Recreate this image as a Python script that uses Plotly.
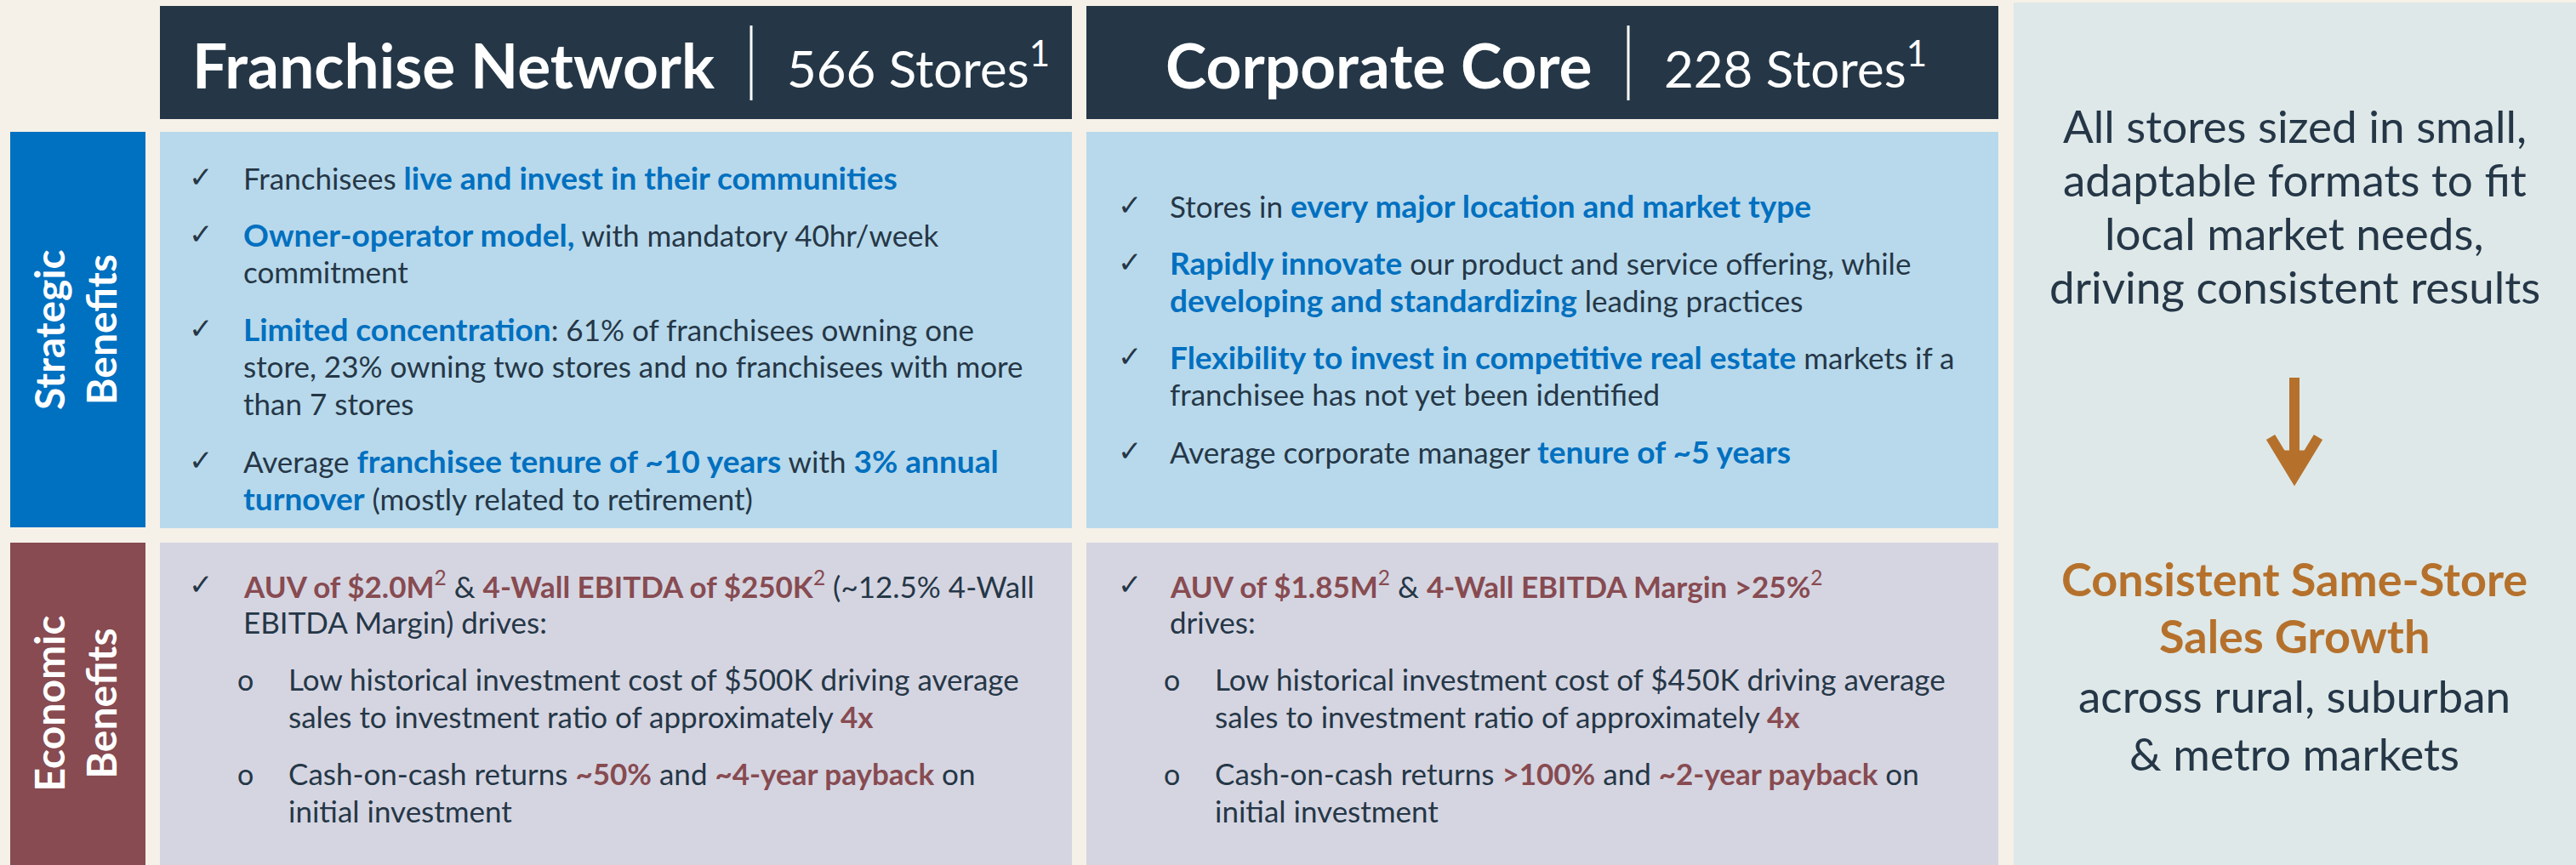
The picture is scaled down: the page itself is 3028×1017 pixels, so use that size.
import plotly.graph_objects as go

W, H = 3028, 1017

# colours
CREAM = "#F5F1E8"
NAVY = "#253747"
BLUE = "#0070C0"
LIGHT_BLUE = "#B8D9EB"
MAROON = "#874B51"
LAVENDER = "#D5D5E1"
PANEL = "#DEE8E8"
ORANGE = "#B5712C"
TEXT = "#253747"
FONT = "Lato"

# ---- content ----
segments = ["Franchise Network", "Corporate Core"]
store_counts = [566, 228]
row_labels = [["Strategic", "Benefits"], ["Economic", "Benefits"]]

# each bullet = list of lines, each line = list of (text, style); style "" plain, "hl" highlight, "sup" superscript
franchise_strategic = [
    [[("Franchisees ", ""), ("live and invest in their communities", "hl")]],
    [[("Owner-operator model,", "hl"), (" with mandatory 40hr/week", "")],
     [("commitment", "")]],
    [[("Limited concentration", "hl"), (": 61% of franchisees owning one", "")],
     [("store, 23% owning two stores and no franchisees with more", "")],
     [("than 7 stores", "")]],
    [[("Average ", ""), ("franchisee tenure of ~10 years", "hl"), (" with ", ""), ("3% annual", "hl")],
     [("turnover", "hl"), (" (mostly related to retirement)", "")]],
]

corporate_strategic = [
    [[("Stores in ", ""), ("every major location and market type", "hl")]],
    [[("Rapidly innovate", "hl"), (" our product and service offering, while", "")],
     [("developing and standardizing", "hl"), (" leading practices", "")]],
    [[("Flexibility to invest in competitive real estate", "hl"), (" markets if a", "")],
     [("franchisee has not yet been identified", "")]],
    [[("Average corporate manager ", ""), ("tenure of ~5 years", "hl")]],
]

# economic bullets: (level, lines) -- level "main" gets a check mark, "sub" a circle
franchise_economic = [
    ("main", [[("AUV of $2.0M", "hl"), ("2", "sup"), (" & ", ""), ("4-Wall EBITDA of $250K", "hl"),
               ("2", "sup"), (" (~12.5% 4-Wall", "")],
              [("EBITDA Margin) drives:", "")]]),
    ("sub", [[("Low historical investment cost of $500K driving average", "")],
             [("sales to investment ratio of approximately ", ""), ("4x", "hl")]]),
    ("sub", [[("Cash-on-cash returns ", ""), ("~50%", "hl"), (" and ", ""), ("~4-year payback", "hl"), (" on", "")],
             [("initial investment", "")]]),
]

corporate_economic = [
    ("main", [[("AUV of $1.85M", "hl"), ("2", "sup"), (" & ", ""), ("4-Wall EBITDA Margin >25%", "hl"), ("2", "sup")],
              [("drives:", "")]]),
    ("sub", [[("Low historical investment cost of $450K driving average", "")],
             [("sales to investment ratio of approximately ", ""), ("4x", "hl")]]),
    ("sub", [[("Cash-on-cash returns ", ""), (">100%", "hl"), (" and ", ""), ("~2-year payback", "hl"), (" on", "")],
             [("initial investment", "")]]),
]

summary_top = ["All stores sized in small,", "adaptable formats to fit",
               "local market needs,", "driving consistent results"]
summary_result = ["Consistent Same-Store", "Sales Growth"]
summary_bottom = ["across rural, suburban", "& metro markets"]


def rich(line, hl_color, hl_size):
    out = []
    for txt, kind in line:
        txt = txt.replace("&", "&amp;").replace(">", "&gt;")
        if kind == "hl":
            out.append(f"<b><span style='color:{hl_color};font-size:{hl_size}px'>{txt}</span></b>")
        elif kind == "sup":
            out.append(f"<span style='color:{hl_color}'><sup>{txt}</sup></span>")
        else:
            out.append(txt)
    return "".join(out)


fig = go.Figure()
shapes = []
ann = []


def rect(x0, y0, x1, y1, color):
    shapes.append(dict(type="rect", x0=x0, y0=y0, x1=x1, y1=y1, xref="x", yref="y",
                       fillcolor=color, line=dict(width=0), layer="below"))


def text(x, y, s, size, color=TEXT, xanchor="left", angle=0):
    ann.append(dict(x=x, y=y, xref="x", yref="y", text=s, showarrow=False,
                    xanchor=xanchor, yanchor="middle", textangle=angle,
                    font=dict(family=FONT, size=size, color=color)))


# layout grid
col_x = [(188, 1260), (1277, 2349)]
label_x = (12, 171)
header_y = (7, 140)
strat_y = (155, 621)
econ_y = (638, H)
panel = (2367, 3, W, H)
divider_x = [883, 1914]

# backgrounds
for (x0, x1) in col_x:
    rect(x0, header_y[0], x1, header_y[1], NAVY)
    rect(x0, strat_y[0], x1, strat_y[1], LIGHT_BLUE)
    rect(x0, econ_y[0], x1, econ_y[1], LAVENDER)
rect(label_x[0], strat_y[0], label_x[1], strat_y[1] - 1, BLUE)
rect(label_x[0], econ_y[0], label_x[1], econ_y[1], MAROON)
rect(*panel, PANEL)

# headers
for name, count, dx in zip(segments, store_counts, divider_x):
    shapes.append(dict(type="line", x0=dx, x1=dx, y0=30, y1=118, xref="x", yref="y",
                       line=dict(color="white", width=3)))
    text(dx - 40, 76, f"<b>{name}</b>", 73, "white", xanchor="right")
    text(dx + 40, 76, f"{count} Stores<sup>1</sup>", 60, "white")

# row labels (rotated)
for (l1, l2), (y0, y1) in zip(row_labels, [strat_y, econ_y]):
    yc = (y0 + y1) / 2
    text(57, yc, f"<b>{l1}</b>", 48, "white", xanchor="center", angle=-90)
    text(118, yc, f"<b>{l2}</b>", 48, "white", xanchor="center", angle=-90)

LINE = 44
GAP = 23
BODY = 35
MARK = 34


def strategic(items, x_mark, x_text, y):
    for lines in items:
        text(x_mark, y - 2, "✓", MARK, TEXT, xanchor="center")
        for ln in lines:
            text(x_text, y, rich(ln, BLUE, 37), BODY)
            y += LINE
        y += GAP


def economic(items, x_mark, x_sub_mark, x_text, x_sub_text, y):
    for level, lines in items:
        if level == "main":
            text(x_mark, y - 2, "✓", MARK, TEXT, xanchor="center")
            xt = x_text
        else:
            text(x_sub_mark, y, "o", MARK, TEXT, xanchor="center")
            xt = x_sub_text
        for ln in lines:
            text(xt, y, rich(ln, MAROON, 35), BODY)
            y += LINE
        y += GAP


strategic(franchise_strategic, 236, 284, 208)
strategic(corporate_strategic, 1328, 1373, 241)
economic(franchise_economic, 236, 288, 284, 337, 687)
economic(corporate_economic, 1328, 1377, 1373, 1426, 687)

# right summary panel
cx = 2697
for i, s in enumerate(summary_top):
    text(cx, 147 + i * 63, s, 53, TEXT, xanchor="center")
for i, s in enumerate(summary_result):
    text(cx, 680 + i * 67, f"<b>{s}</b>", 54, ORANGE, xanchor="center")
for i, s in enumerate(summary_bottom):
    text(cx, 817 + i * 68, s.replace("&", "&amp;"), 53, TEXT, xanchor="center")

# down arrow
shapes.append(dict(type="line", x0=cx, x1=cx, y0=444, y1=545, xref="x", yref="y",
                   line=dict(color=ORANGE, width=12)))
shapes.append(dict(type="path", path=f"M {cx-28} 514 L {cx} 560 L {cx+28} 514",
                   xref="x", yref="y", line=dict(color=ORANGE, width=12)))
shapes.append(dict(type="path", path=f"M {cx-14} 530 L {cx} 567 L {cx+14} 530 Z",
                   xref="x", yref="y", fillcolor=ORANGE, line=dict(color=ORANGE, width=1)))

fig.update_layout(
    width=W, height=H,
    margin=dict(l=0, r=0, t=0, b=0),
    paper_bgcolor=CREAM, plot_bgcolor=CREAM,
    xaxis=dict(range=[0, W], visible=False, fixedrange=True),
    yaxis=dict(range=[H, 0], visible=False, fixedrange=True),
    shapes=shapes, annotations=ann, showlegend=False,
)

fig.write_html("out.html", config={"displayModeBar": False},
               post_script="document.body.style.margin='0';document.body.style.overflow='hidden';")
